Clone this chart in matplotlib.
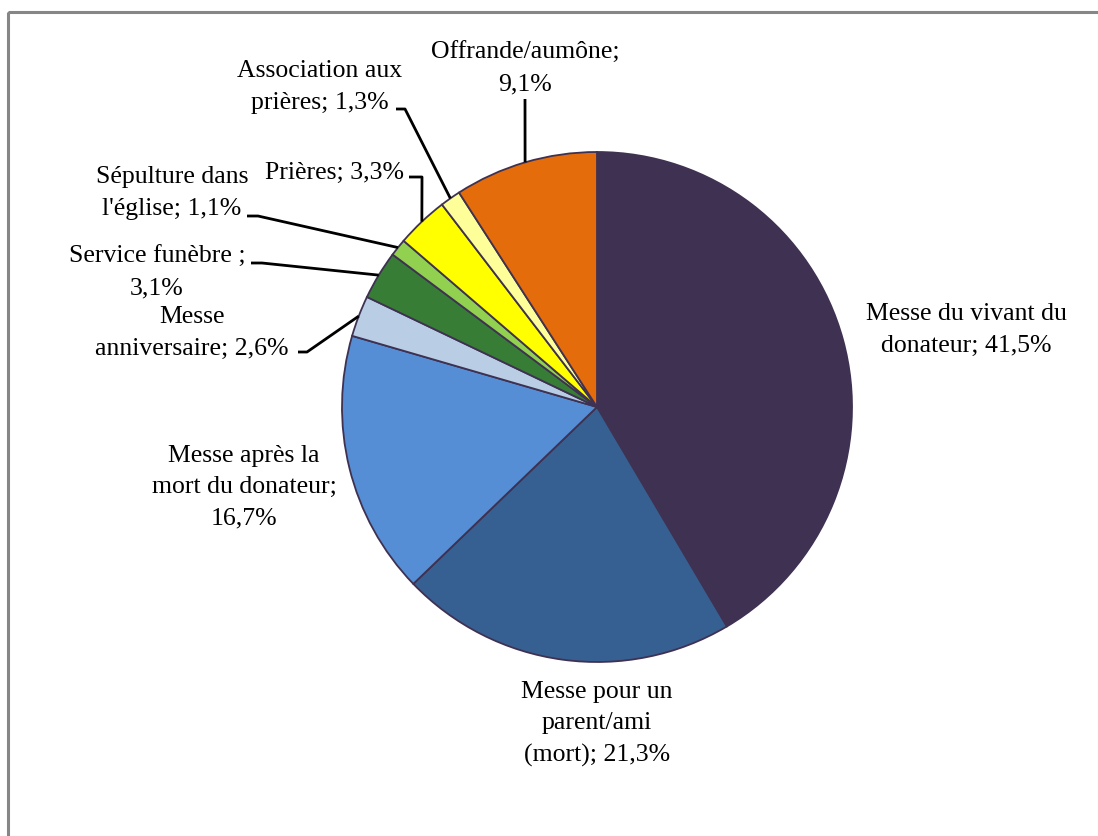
import matplotlib
matplotlib.use('Agg')
import matplotlib.pyplot as plt
from matplotlib.patches import Rectangle
import numpy as np

# data (clockwise from 12 o'clock)
labels = ["Messe du vivant du\ndonateur; {}%",
          "Messe pour un\nparent/ami\n(mort); {}%",
          "Messe après la\nmort du donateur;\n{}%",
          "Messe\nanniversaire; {}%",
          "Service funèbre ;\n{}%",
          "Sépulture dans\nl'église; {}%",
          "Prières; {}%",
          "Association aux\nprières; {}%",
          "Offrande/aumône;\n{}%"]
values = [41.5, 21.3, 16.7, 2.6, 3.1, 1.1, 3.3, 1.3, 9.1]
colors = ['#3F3151', '#376092', '#558ED5', '#B9CDE5', '#377D36',
          '#92D050', '#FFFF00', '#FFFF99', '#E46C0A']

# layout in pixel units (y downwards)
W, H = 1098, 837
center = (597, 408)
radius = 255
text_pos = [(966, 330), (597, 724), (244, 487), (192, 333), (157, 273),
            (172, 193), (334, 173), (320, 87), (525, 69)]
# leader: (start x, start y, elbow x) or None
leaders = [None, None, None, (298, 353, 307), (251, 264, 262),
           (247, 217, 258), (409, 178, 422), (396, 110, 405), (525, 100, 525)]

fig = plt.figure(figsize=(W / 100, H / 100), dpi=100)
ax = fig.add_axes([0, 0, 1, 1])

# y axis is inverted below, so the visual clockwise order means counterclock in data
wedges, _ = ax.pie(values, colors=colors, startangle=-90, counterclock=True,
                   center=center, radius=radius,
                   wedgeprops=dict(edgecolor='#3F3151', linewidth=1.3))
ax.set_xlim(0, W)
ax.set_ylim(H, 0)
ax.set_aspect('equal')
ax.axis('off')

font = 'Liberation Serif'
for i, (lab, v) in enumerate(zip(labels, values)):
    txt = lab.format(f"{v:.1f}".replace('.', ','))
    ax.text(text_pos[i][0], text_pos[i][1], txt, ha='center', va='center',
            multialignment='center', fontsize=18.5, family=font,
            linespacing=1.55, color='black')
    if leaders[i] is not None:
        w = wedges[i]
        mid = np.deg2rad((w.theta1 + w.theta2) / 2)
        ex = center[0] + radius * np.cos(mid)
        ey = center[1] + radius * np.sin(mid)
        sx, sy, kx = leaders[i]
        ax.plot([sx, kx, ex], [sy, sy, ey], color='black', lw=2,
                solid_capstyle='butt')

ax.add_patch(Rectangle((8, 13), 1300, 1000, fill=False, edgecolor='#868686',
                       linewidth=2.2))

fig.savefig('out.png', dpi=100)
